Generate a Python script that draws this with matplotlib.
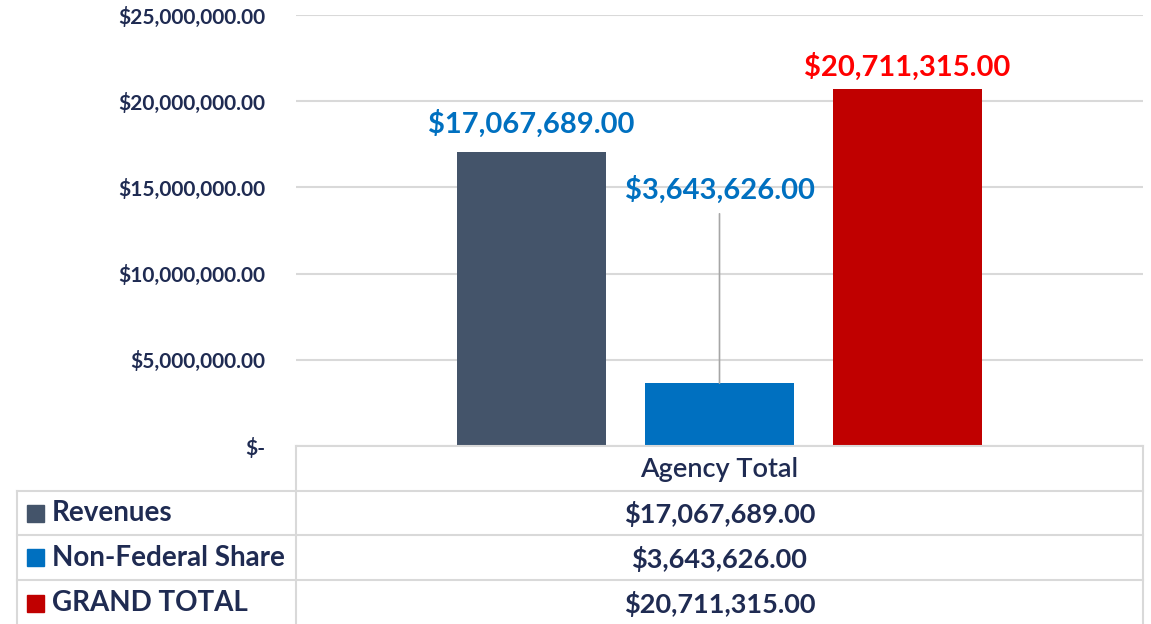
import numpy as np
import matplotlib.pyplot as plt
from matplotlib.ticker import FuncFormatter, MultipleLocator

# series shown in the chart and the data table
series = ['Revenues', 'Non-Federal Share', 'GRAND TOTAL']
values = [17067689.00, 3643626.00, 20711315.00]
category = 'Agency Total'
bar_colors = ['#44546a', '#0070c0', '#c00000']
label_colors = ['#0070c0', '#0070c0', '#ff0000']

navy = '#1f2b52'
grid = '#d9d9d9'
plt.rcParams['font.family'] = ['Lato', 'DejaVu Sans']

W, H = 1151, 624
fig = plt.figure(figsize=(W / 100, H / 100), dpi=100)

# plot area in pixel terms
px_l, px_r, px_t, px_b = 296, 1143, 15, 446
ax = fig.add_axes([px_l / W, (H - px_b) / H, (px_r - px_l) / W, (px_b - px_t) / H])

pos = np.arange(len(values)) - 1
ax.bar(pos, values, width=0.79, color=bar_colors, zorder=3)
ax.set_xlim(-2.253, 2.253)
ax.set_ylim(0, 25e6)
ax.yaxis.set_major_locator(MultipleLocator(5e6))
ax.yaxis.set_major_formatter(FuncFormatter(lambda v, p: '$-' if v == 0 else f'${v:,.2f}'))
ax.grid(axis='y', color=grid, lw=1.5, zorder=0)
ax.set_xticks([])
ax.tick_params(axis='y', length=0, pad=22, labelsize=15, labelcolor=navy)
for t in ax.get_yticklabels():
    t.set_fontweight('bold')
for s in ax.spines.values():
    s.set_visible(False)

# value labels; the small bar gets its label lifted with a leader line
offsets = [(0, 20), None, (0, 16)]
for i, (x, v) in enumerate(zip(pos, values)):
    if i == 1:
        ax.annotate(f'${v:,.2f}', xy=(x, v), xytext=(x, 14.85e6), textcoords='data',
                    ha='center', va='center', fontsize=21, fontweight='bold',
                    color=label_colors[i],
                    arrowprops=dict(arrowstyle='-', color='#a6a6a6', lw=1.2,
                                    shrinkA=5, shrinkB=0))
    else:
        ax.annotate(f'${v:,.2f}', xy=(x, v), xytext=offsets[i], textcoords='offset points',
                    ha='center', va='center', fontsize=21, fontweight='bold',
                    color=label_colors[i])

# data table underneath
tb = fig.add_axes([0, 0, 1, 1])
tb.set_xlim(0, W)
tb.set_ylim(H, 0)
tb.axis('off')

rows = [446, 491, 535, 580, 626]
left, mid, right = 17, px_l, px_r
tb.plot([mid, right], [rows[0], rows[0]], color=grid, lw=1.5)
for y in rows[1:4]:
    tb.plot([left, right], [y, y], color=grid, lw=1.5)
tb.plot([left, left], [rows[1], rows[-1]], color=grid, lw=1.5)
tb.plot([mid, mid], [rows[0], rows[-1]], color=grid, lw=1.5)
tb.plot([right, right], [rows[0], rows[-1]], color=grid, lw=1.5)

cx = (mid + right) / 2
tb.text(cx, (rows[0] + rows[1]) / 2 + 1, category, ha='center', va='center',
        fontsize=19.5, color=navy, fontweight='semibold')
for i, (name, v) in enumerate(zip(series, values)):
    yc = (rows[i + 1] + rows[i + 2]) / 2
    tb.add_patch(plt.Rectangle((27, yc - 8.5), 17, 17, color=bar_colors[i]))
    tb.text(52, yc, name, ha='left', va='center', fontsize=20, color=navy,
            fontweight='bold')
    tb.text(cx, yc + 1, f'${v:,.2f}', ha='center', va='center', fontsize=19.5,
            color=navy, fontweight='bold')

fig.savefig('out.png', dpi=100)
